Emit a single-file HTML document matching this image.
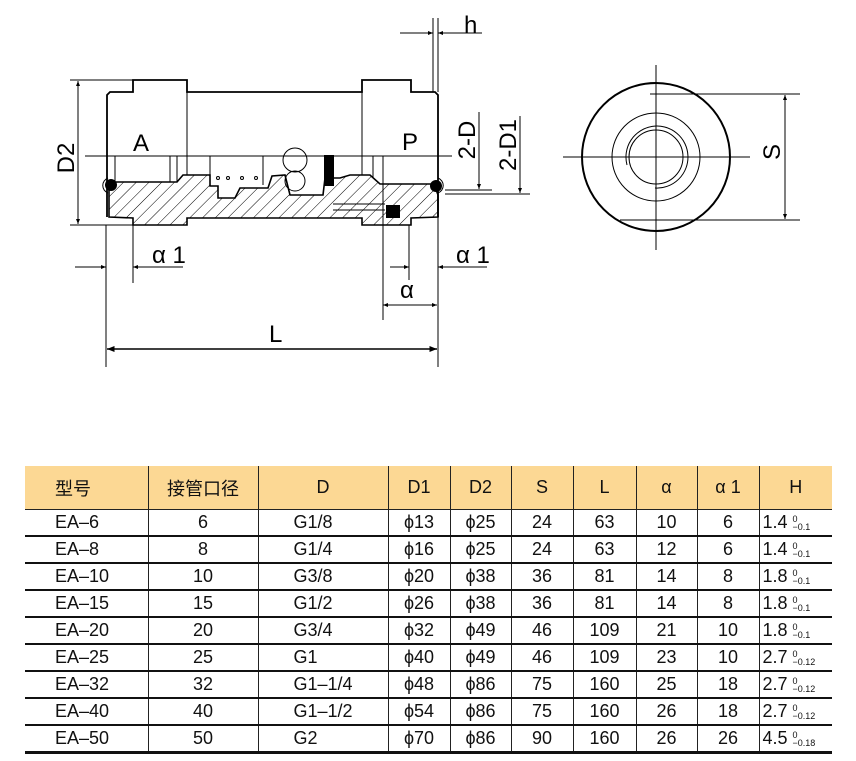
<!DOCTYPE html>
<html><head><meta charset="utf-8"><style>
body{margin:0;width:856px;height:761px;background:#fff;position:relative;overflow:hidden;font-family:"Liberation Sans Narrow","Liberation Sans","Noto Sans CJK SC",sans-serif;}
svg{position:absolute;left:0;top:0}
table{position:absolute;left:25px;top:466px;border-collapse:collapse;table-layout:fixed;font-size:18px;color:#111}
td{border-left:1.5px solid #222;height:25px;padding:0;text-align:center;border-bottom:2px solid #111;white-space:nowrap}
td:first-child{border-left:none;text-align:left;padding-left:30px}
tr.h td{background:#fcd894;height:43px;border-bottom:1.5px solid #222;font-family:"Liberation Sans","Noto Sans CJK SC",sans-serif}
tr.last td{border-bottom:3px solid #111}
td.d{text-align:left;padding-left:35px}
td.hh{text-align:left;padding-left:3px}
sup.t{display:inline-block;font-size:9px;line-height:8px;vertical-align:middle;text-align:left}
</style></head><body>
<svg width="856" height="440" viewBox="0 0 856 440" font-family="Liberation Sans, sans-serif">
<defs>
<pattern id="hat" patternUnits="userSpaceOnUse" width="9" height="9" patternTransform="rotate(45)"><line x1="0" y1="0" x2="0" y2="9" stroke="#000" stroke-width="1"/></pattern>
<marker id="ar" viewBox="0 0 10 10" refX="10" refY="5" markerWidth="9" markerHeight="5" orient="auto-start-reverse"><path d="M0,1 L10,5 L0,9z" fill="#000"/></marker>
</defs>
<g fill="none" stroke="#000" stroke-width="1">
<path d="M109,182 L177,182 L183,175 L210,175 L210,186 L218,186 L218,198 L235,198 L240,188 L268,188 L272,176 L285,175 L290,195 L323,195 L325,178 L340,178 L350,175 L370,175 L380,184 L434,184 L438,195 L438,217 L411,218 L411,225 L362,225 L362,218 L187,218 L187,225 L133,225 L133,218 L109,217 Z" fill="url(#hat)" stroke-width="1.6"/>
<path d="M107,217 L107,95 L110,92 L133,92 L133,80 L187,80 L187,92 L362,92 L362,80 L411,80 L411,92 L435,92 L438,95 L438,217" stroke-width="1.8"/>
<line x1="187" y1="92" x2="187" y2="175"/><line x1="362" y1="92" x2="362" y2="175"/>
<line x1="115" y1="156" x2="115" y2="182"/><line x1="170" y1="156" x2="170" y2="182"/><line x1="177" y1="156" x2="177" y2="182"/>
<line x1="210" y1="156" x2="210" y2="186"/><line x1="263" y1="156" x2="263" y2="185"/>
<line x1="373" y1="156" x2="373" y2="178"/><line x1="383" y1="156" x2="383" y2="320"/>
<circle cx="295" cy="160" r="12"/><circle cx="295" cy="181" r="10"/>
<circle cx="218" cy="178" r="1.5"/><circle cx="228" cy="178" r="1.5"/><circle cx="242" cy="178" r="1.5"/><circle cx="256" cy="178" r="1.5"/>
<line x1="333" y1="204" x2="385" y2="204"/><line x1="333" y1="210" x2="385" y2="210"/>
<path d="M108,178 A8,8 0 0 0 108,193"/><path d="M438,178 A8,8 0 0 1 438,193"/>
<line x1="85" y1="156" x2="452" y2="156"/>
<line x1="70" y1="80" x2="133" y2="80"/><line x1="70" y1="225" x2="133" y2="225"/>
<line x1="78" y1="81" x2="78" y2="224" marker-start="url(#ar)" marker-end="url(#ar)"/>
<line x1="433" y1="18" x2="433" y2="92"/><line x1="438" y1="18" x2="438" y2="92"/>
<line x1="400" y1="33" x2="433" y2="33" marker-end="url(#ar)"/><line x1="482" y1="33" x2="438" y2="33" marker-end="url(#ar)"/>
<line x1="445" y1="190" x2="492" y2="190"/><line x1="479" y1="112" x2="479" y2="189" marker-end="url(#ar)"/>
<line x1="445" y1="194" x2="530" y2="194"/><line x1="520" y1="116" x2="520" y2="193" marker-end="url(#ar)"/>
<line x1="106" y1="225" x2="106" y2="367"/><line x1="133" y1="225" x2="133" y2="283"/>
<line x1="75" y1="267" x2="106" y2="267" marker-end="url(#ar)"/><line x1="183" y1="267" x2="133" y2="267" marker-end="url(#ar)"/>
<line x1="409" y1="225" x2="409" y2="280"/><line x1="438" y1="200" x2="438" y2="367"/>
<line x1="390" y1="267" x2="409" y2="267" marker-end="url(#ar)"/><line x1="487" y1="267" x2="438" y2="267" marker-end="url(#ar)"/>
<line x1="383" y1="305" x2="437" y2="305" marker-start="url(#ar)" marker-end="url(#ar)"/>
<line x1="107" y1="349" x2="437" y2="349" marker-start="url(#ar)" marker-end="url(#ar)" stroke-width="1.5"/>
<circle cx="656" cy="157" r="74" stroke-width="2"/>
<circle cx="656" cy="157" r="44"/><circle cx="656" cy="157" r="27"/>
<path d="M627,165 A31,31 0 1 1 655,188"/>
<line x1="563" y1="157" x2="750" y2="157"/><line x1="656" y1="65" x2="656" y2="250"/>
<line x1="650" y1="94" x2="800" y2="94"/><line x1="620" y1="220" x2="800" y2="220"/>
<line x1="785" y1="95" x2="785" y2="219" marker-start="url(#ar)" marker-end="url(#ar)"/>
</g>
<g fill="#000" stroke="none">
<circle cx="111" cy="185" r="6"/><circle cx="436" cy="186" r="6"/>
<rect x="324" y="155" width="10" height="31"/><rect x="386" y="205" width="14" height="13"/>
</g>
<g font-size="24" fill="#000">
<text x="133" y="151">A</text><text x="402" y="150">P</text>
<text x="464" y="33">h</text>
<text x="152" y="263">α 1</text><text x="456" y="263">α 1</text>
<text x="400" y="298">α</text>
<text x="269" y="342">L</text>
<text transform="translate(74,158) rotate(-90)" text-anchor="middle">D2</text>
<text transform="translate(475,140) rotate(-90)" text-anchor="middle">2-D</text>
<text transform="translate(516,145) rotate(-90)" text-anchor="middle">2-D1</text>
<text transform="translate(780,152) rotate(-90)" text-anchor="middle">S</text>
</g>
</svg>
<table>
<colgroup><col style="width:123px"><col style="width:110px"><col style="width:130px"><col style="width:62px"><col style="width:61px"><col style="width:62px"><col style="width:63px"><col style="width:61px"><col style="width:62px"><col style="width:73px"></colgroup>
<tr class="h"><td>型号</td><td>接管口径</td><td>D</td><td>D1</td><td>D2</td><td>S</td><td>L</td><td>α</td><td>α 1</td><td>H</td></tr>
<tr><td>EA–6</td><td>6</td><td class="d">G1/8</td><td>ϕ13</td><td>ϕ25</td><td>24</td><td>63</td><td>10</td><td>6</td><td class="hh">1.4 <sup class="t">0<br>−0.1</sup></td></tr>
<tr><td>EA–8</td><td>8</td><td class="d">G1/4</td><td>ϕ16</td><td>ϕ25</td><td>24</td><td>63</td><td>12</td><td>6</td><td class="hh">1.4 <sup class="t">0<br>−0.1</sup></td></tr>
<tr><td>EA–10</td><td>10</td><td class="d">G3/8</td><td>ϕ20</td><td>ϕ38</td><td>36</td><td>81</td><td>14</td><td>8</td><td class="hh">1.8 <sup class="t">0<br>−0.1</sup></td></tr>
<tr><td>EA–15</td><td>15</td><td class="d">G1/2</td><td>ϕ26</td><td>ϕ38</td><td>36</td><td>81</td><td>14</td><td>8</td><td class="hh">1.8 <sup class="t">0<br>−0.1</sup></td></tr>
<tr><td>EA–20</td><td>20</td><td class="d">G3/4</td><td>ϕ32</td><td>ϕ49</td><td>46</td><td>109</td><td>21</td><td>10</td><td class="hh">1.8 <sup class="t">0<br>−0.1</sup></td></tr>
<tr><td>EA–25</td><td>25</td><td class="d">G1</td><td>ϕ40</td><td>ϕ49</td><td>46</td><td>109</td><td>23</td><td>10</td><td class="hh">2.7 <sup class="t">0<br>−0.12</sup></td></tr>
<tr><td>EA–32</td><td>32</td><td class="d">G1–1/4</td><td>ϕ48</td><td>ϕ86</td><td>75</td><td>160</td><td>25</td><td>18</td><td class="hh">2.7 <sup class="t">0<br>−0.12</sup></td></tr>
<tr><td>EA–40</td><td>40</td><td class="d">G1–1/2</td><td>ϕ54</td><td>ϕ86</td><td>75</td><td>160</td><td>26</td><td>18</td><td class="hh">2.7 <sup class="t">0<br>−0.12</sup></td></tr>
<tr class="last"><td>EA–50</td><td>50</td><td class="d">G2</td><td>ϕ70</td><td>ϕ86</td><td>90</td><td>160</td><td>26</td><td>26</td><td class="hh">4.5 <sup class="t">0<br>−0.18</sup></td></tr>
</table>
</body></html>
